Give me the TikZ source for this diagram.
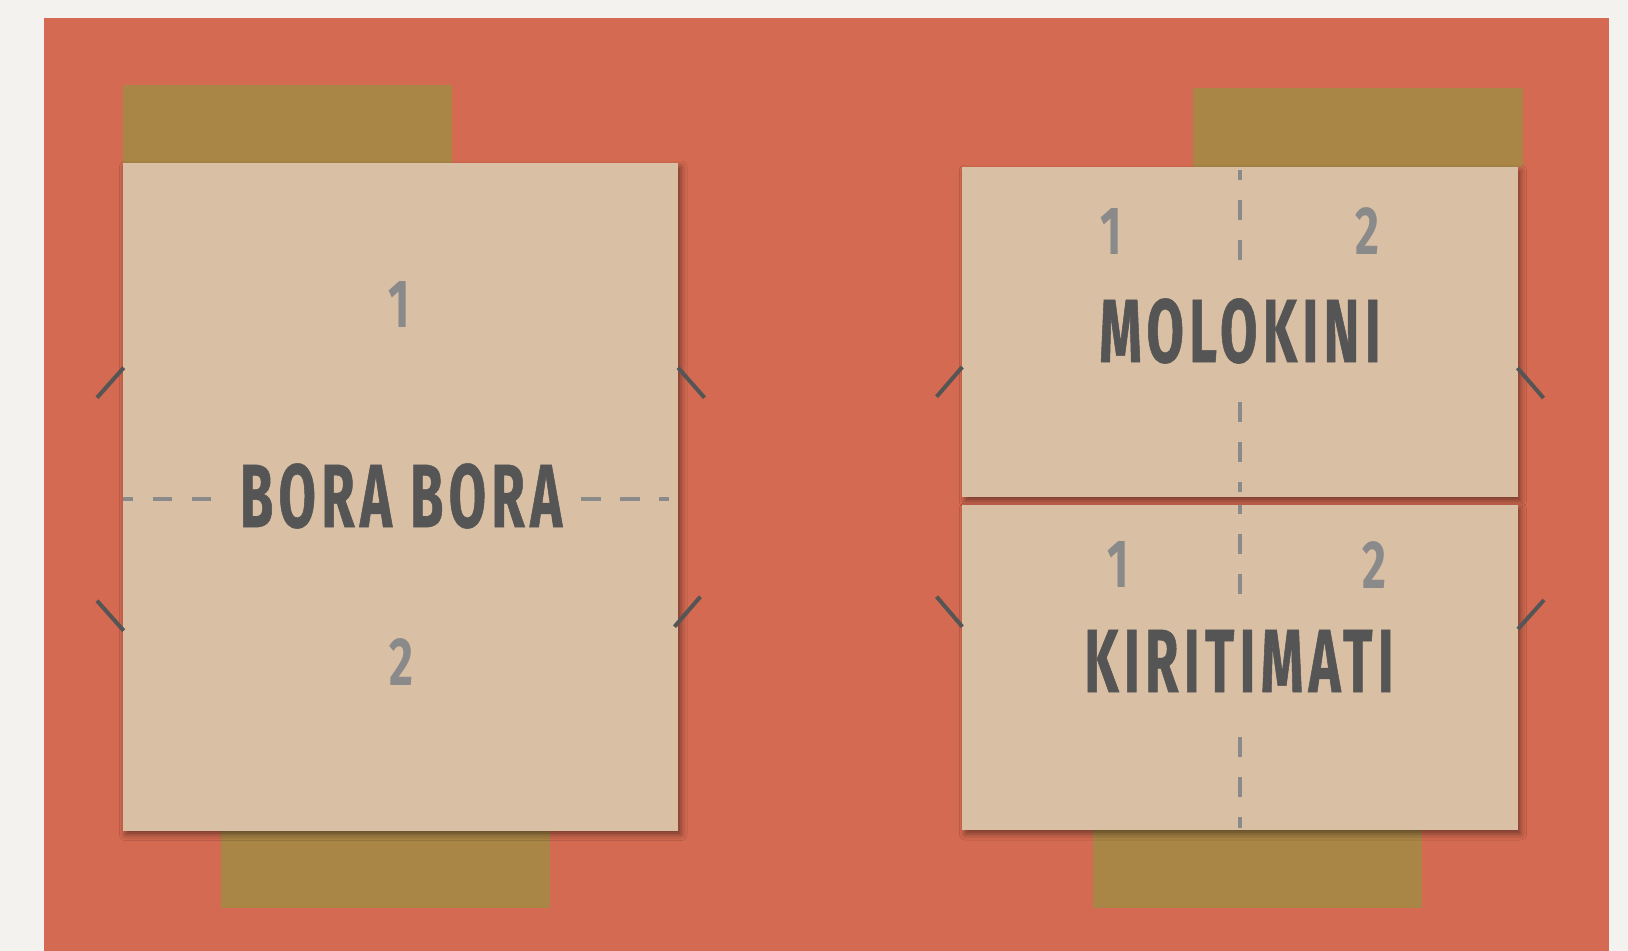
\documentclass[tikz,border=0pt]{standalone}
\usepackage{fontspec}
\newfontfamily\dinfont[FakeStretch=0.68]{Fira Sans}
\newfontfamily\dintitle[FakeStretch=0.6,LetterSpace=6,FakeBold=0.6]{Fira Sans}
\usetikzlibrary{calc,shadows.blur}
\definecolor{paper}{HTML}{F4F2EE}
\definecolor{panelred}{HTML}{D46A51}
\definecolor{tape}{HTML}{AA8646}
\definecolor{cardfill}{HTML}{D9BFA4}
\definecolor{ink}{HTML}{555555}
\definecolor{softink}{HTML}{8A8A8A}
\begin{document}
\begin{tikzpicture}[x=0.5pt,y=-0.5pt,
  cardbox/.style={rectangle, fill=cardfill, draw=none, inner sep=0pt, outer sep=0pt, anchor=north west,
    blur shadow={shadow xshift=1.5pt, shadow yshift=-2pt, shadow blur radius=3pt, shadow opacity=45}},
  tapebox/.style={rectangle, fill=tape, draw=none, inner sep=0pt, outer sep=0pt, anchor=north west},
  titletext/.style={font=\dintitle\bfseries\fontsize{45}{45}\selectfont, text=ink, inner sep=0pt},
  numtext/.style={font=\dinfont\bfseries\fontsize{34}{34}\selectfont, text=softink, inner sep=0pt},
  fold/.style={draw=softink, line width=2.4pt, dash pattern=on 9.75pt off 9.75pt},
  vfold/.style={draw=softink, line width=2.4pt, dash pattern=on 10pt off 10pt},
  cornertick/.style={draw=ink, line width=2pt}
]
% page and panel
\fill[paper] (0,0) rectangle (1628,951);
\useasboundingbox (0,0) rectangle (1628,951);
\fill[panelred] (43.6,17.7) rectangle (1608.5,951);

% tapes (behind cards)
\node[tapebox, minimum width=164.75pt, minimum height=39pt] (tapeA) at (122.5,85) {};
\node[tapebox, minimum width=164.5pt, minimum height=39pt] (tapeB) at (221,830) {};
\node[tapebox, minimum width=165pt, minimum height=39.5pt] (tapeC) at (1193,88) {};
\node[tapebox, minimum width=164.5pt, minimum height=39pt] (tapeD) at (1093,830) {};

% cards
\node[cardbox, minimum width=277.75pt, minimum height=333.8pt] (bora) at (122.5,163) {};
\node[cardbox, minimum width=277.6pt, minimum height=165pt] (molo) at (962.3,167) {};
\node[cardbox, minimum width=277.6pt, minimum height=162.5pt] (kiri) at (962.3,505) {};

% fold lines
\draw[fold] (211,499) -- (123,499);
\draw[fold] (581,499) -- (669,499);
\draw[vfold, dash phase=5pt] (1240,170) -- (1240,261);
\draw[vfold] (1240,402) -- (1240,492);
\draw[vfold, dash phase=5.5pt] (1240,505) -- (1240,595);
\draw[vfold] (1240,737) -- (1240,828);

% titles
\node[titletext] (boraT) at (401,496) {BORA BORA};
\node[titletext] (moloT) at (1240,331) {MOLOKINI};
\node[titletext] (kiriT) at (1239,661) {KIRITIMATI};

% numbers
\node[numtext] (b1) at (399,305) {1};
\node[numtext] (b2) at (401,662) {2};
\node[numtext] (m1) at (1111,231.5) {1};
\node[numtext] (m2) at (1367,231.5) {2};
\node[numtext] (k1) at (1118,565) {1};
\node[numtext] (k2) at (1374,565) {2};

% corner ticks
\coordinate (t1) at (97,397.7);
\coordinate (t2) at (704.5,397.7);
\coordinate (t3) at (97,600.7);
\coordinate (t4) at (700.4,596.7);
\draw[cornertick] (123.7,367.7) -- (t1);
\draw[cornertick] (678,367.7) -- (t2);
\draw[cornertick] (t3) -- (123.7,630.7);
\draw[cornertick] (t4) -- (674.5,626.7);
\coordinate (t5) at (936.6,396.7);
\coordinate (t6) at (1543.5,398);
\coordinate (t7) at (936.6,596.7);
\coordinate (t8) at (1544,600);
\draw[cornertick] (962.3,367) -- (t5);
\draw[cornertick] (1517.5,368) -- (t6);
\draw[cornertick] (t7) -- (962.3,626.7);
\draw[cornertick] (t8) -- (1518,629);
\end{tikzpicture}
\end{document}
